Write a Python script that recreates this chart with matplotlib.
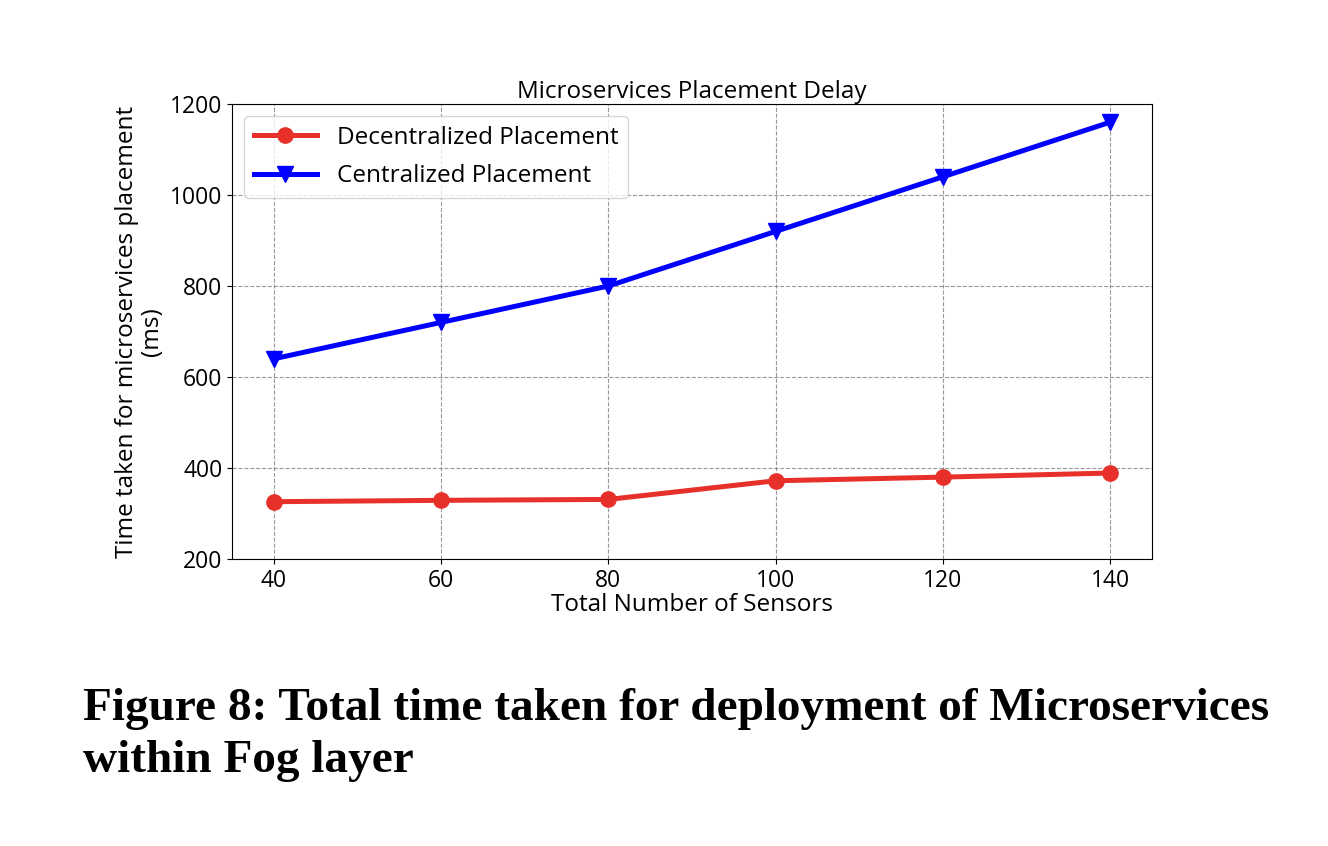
import matplotlib
matplotlib.use('Agg')
import matplotlib.pyplot as plt

# data
sensors = [40, 60, 80, 100, 120, 140]
decentralized = [326, 329, 331, 372, 380, 389]
centralized = [640, 720, 800, 920, 1040, 1160]

plt.rcParams['font.family'] = ['Open Sans', 'DejaVu Sans']

fig = plt.figure(figsize=(13.28, 8.46), dpi=100)
ax = fig.add_axes([0.1747, 0.3392, 0.6928, 0.5379])

ax.plot(sensors, decentralized, color='#e8302a', marker='o', lw=3.6, ms=11,
        label='Decentralized Placement')
ax.plot(sensors, centralized, color='#0000ff', marker='v', lw=3.6, ms=11,
        label='Centralized Placement')

ax.set_ylim(200, 1200)
ax.set_xticks(sensors)
ax.set_yticks([200, 400, 600, 800, 1000, 1200])
ax.tick_params(labelsize=16.5)
ax.grid(True, linestyle='--', color='gray', alpha=0.8)

ax.set_title('Microservices Placement Delay', fontsize=17.5, pad=3)
ax.set_xlabel('Total Number of Sensors', fontsize=17.5, labelpad=0)
ax.set_ylabel('Time taken for microservices placement\n(ms)', fontsize=17.5,
              linespacing=1.05)
ax.legend(loc='upper left', fontsize=17.5, handlelength=2.6, labelspacing=0.6)

fig.text(0.0625, 0.131, 'Figure 8: Total time taken for deployment of Microservices\nwithin Fog layer',
         fontsize=34, fontweight='bold', family='Liberation Serif',
         ha='left', va='center', linespacing=1.3)

fig.savefig('out.png', dpi=100)
